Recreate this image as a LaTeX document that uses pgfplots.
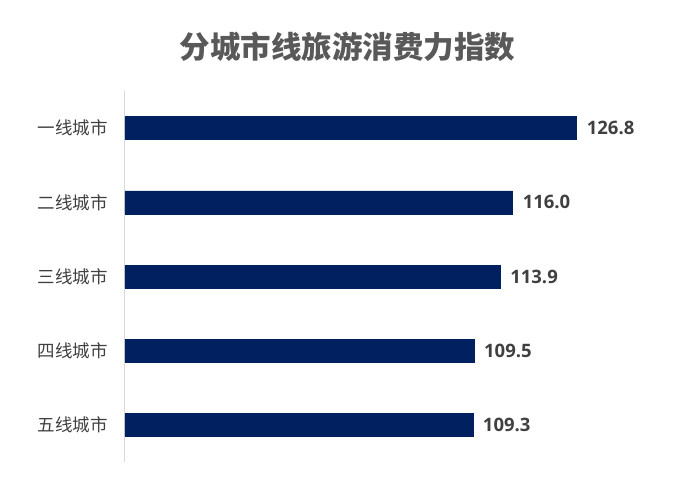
\documentclass[border=0pt]{standalone}
\usepackage{fontspec}
\usepackage{pgfplots}
\pgfplotsset{compat=1.18}
\setmainfont{Open Sans}
\newfontfamily\cjk{Noto Sans CJK SC}

\definecolor{barblue}{HTML}{002060}
\definecolor{titlegray}{HTML}{595959}
\definecolor{labelgray}{HTML}{404040}
\definecolor{valgray}{HTML}{404040}
\definecolor{axisgray}{HTML}{D9D9D9}

\begin{document}
\begin{tikzpicture}[x=1pt,y=1pt]
    \useasboundingbox (0,0) rectangle (678,491);
    \node[font=\cjk\bfseries\fontsize{30.5}{33}\selectfont, text=titlegray]
        at (347.5,444.5) {分城市线旅游消费力指数};
    \begin{axis}[
            at={(125pt,29pt)},
            anchor=south west,
            scale only axis,
            width=530pt,
            height=371pt,
            xbar,
            bar width=23pt,
            xmin=50.7,
            xmax=140,
            ymin=-0.5,
            ymax=4.5,
            y dir=reverse,
            axis x line=none,
            axis y line*=left,
            axis line style={-, draw=axisgray, line width=1pt},
            ytick={0,...,4},
            yticklabels={一线城市,二线城市,三线城市,四线城市,五线城市},
            major tick length=0pt,
            yticklabel style={font=\cjk\fontsize{17.5}{20}\selectfont, text=labelgray,
                inner sep=0pt, xshift=-17pt},
            point meta=x,
            nodes near coords={\pgfmathprintnumber[fixed,fixed zerofill,precision=1,assume math mode=true]{\pgfplotspointmeta}},
            nodes near coords style={font=\bfseries\fontsize{18.5}{20}\selectfont, text=valgray,
                anchor=west, inner sep=0pt, xshift=10pt},
        ]
        \addplot[fill=barblue, draw=barblue] coordinates {
            (126.8,0)
            (116.0,1)
            (113.9,2)
            (109.5,3)
            (109.3,4)
        };
    \end{axis}
\end{tikzpicture}
\end{document}
